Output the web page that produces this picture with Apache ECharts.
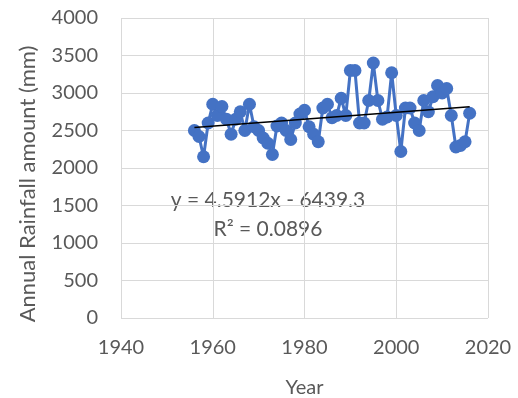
<!DOCTYPE html>
<html>
<head>
<meta charset="utf-8">
<script src="https://cdn.jsdelivr.net/npm/echarts@6/dist/echarts.min.js"></script>
<style>
  html, body { margin: 0; padding: 0; background: #fff; }
  #chart { width: 518px; height: 398px; }
</style>
</head>
<body>
<div id="chart"></div>
<script>
// Annual rainfall record, one value per year
const years = [
  1956, 1957, 1958, 1959, 1960, 1961, 1962, 1963, 1964, 1965,
  1966, 1967, 1968, 1969, 1970, 1971, 1972, 1973, 1974, 1975,
  1976, 1977, 1978, 1979, 1980, 1981, 1982, 1983, 1984, 1985,
  1986, 1987, 1988, 1989, 1990, 1991, 1992, 1993, 1994, 1995,
  1996, 1997, 1998, 1999, 2000, 2001, 2002, 2003, 2004, 2005,
  2006, 2007, 2008, 2009, 2010, 2011, 2012, 2013, 2014, 2015,
  2016
];
const rainfall = [
  2500, 2420, 2150, 2600, 2850, 2700, 2820, 2650, 2450, 2650,
  2750, 2500, 2850, 2550, 2500, 2400, 2330, 2180, 2560, 2600,
  2500, 2380, 2600, 2720, 2770, 2550, 2450, 2350, 2800, 2850,
  2670, 2700, 2930, 2700, 3300, 3300, 2600, 2600, 2900, 3400,
  2900, 2650, 2680, 3270, 2700, 2220, 2800, 2800, 2600, 2500,
  2900, 2750, 2950, 3100, 3000, 3060, 2700, 2280, 2300, 2350,
  2730
];

// Linear trend (least squares) as reported on the chart
const slope = 4.5912;
const intercept = -6439.3;
const rSquared = 0.0896;

const xTicks = [1940, 1960, 1980, 2000, 2020];
const yMax = 4000, yStep = 500;

const seriesData = years.map((y, i) => [y, rainfall[i]]);
const x0 = years[0], x1 = years[years.length - 1];
const trendData = [[x0, slope * x0 + intercept], [x1, slope * x1 + intercept]];

const textColor = '#595959';
const gridColor = '#d9d9d9';
const font = 'Lato, "Open Sans", sans-serif';
const plain = v => String(v);

const chart = echarts.init(document.getElementById('chart'), null, { renderer: 'canvas' });
chart.setOption({
  animation: false,
  backgroundColor: '#ffffff',
  grid: {
    left: 121, right: 30, top: 18, bottom: 80,
    containLabel: false, outerBoundsMode: 'none'
  },
  xAxis: {
    type: 'value',
    min: xTicks[0], max: xTicks[xTicks.length - 1], interval: 20,
    name: 'Year', nameLocation: 'middle', nameGap: 60,
    nameTextStyle: { color: textColor, fontSize: 20, fontFamily: font },
    axisLine: { show: false },
    axisTick: { show: false },
    axisLabel: { color: textColor, fontSize: 20, fontFamily: font, margin: 20, formatter: plain },
    splitLine: { show: true, lineStyle: { color: gridColor, width: 1 } }
  },
  yAxis: {
    type: 'value',
    min: 0, max: yMax, interval: yStep,
    axisLine: { show: false },
    axisTick: { show: false },
    axisLabel: { color: textColor, fontSize: 20, fontFamily: font, margin: 23, formatter: plain },
    splitLine: { show: true, lineStyle: { color: gridColor, width: 1 } }
  },
  graphic: [
    {
      type: 'text', x: 28, y: 184, rotation: Math.PI / 2,
      style: {
        text: 'Annual Rainfall amount (mm)', fill: textColor,
        font: '22px ' + font, align: 'center', verticalAlign: 'middle'
      }
    },
    {
      type: 'text', x: 268, y: 200,
      style: {
        text: 'y = ' + slope.toFixed(4) + 'x - ' + Math.abs(intercept).toFixed(1),
        fill: textColor, font: '21px ' + font, align: 'center', verticalAlign: 'middle'
      }
    },
    {
      type: 'text', x: 268, y: 229,
      style: {
        text: 'R² = ' + rSquared.toFixed(4),
        fill: textColor, font: '21px ' + font, align: 'center', verticalAlign: 'middle'
      }
    }
  ],
  series: [
    {
      type: 'line',
      data: seriesData,
      symbol: 'circle', symbolSize: 13,
      itemStyle: { color: '#4472c4' },
      lineStyle: { color: '#4472c4', width: 3 },
      z: 2
    },
    {
      type: 'line',
      data: trendData,
      symbol: 'none',
      lineStyle: { color: '#000000', width: 1.5 },
      z: 3
    }
  ]
});
</script>
</body>
</html>
